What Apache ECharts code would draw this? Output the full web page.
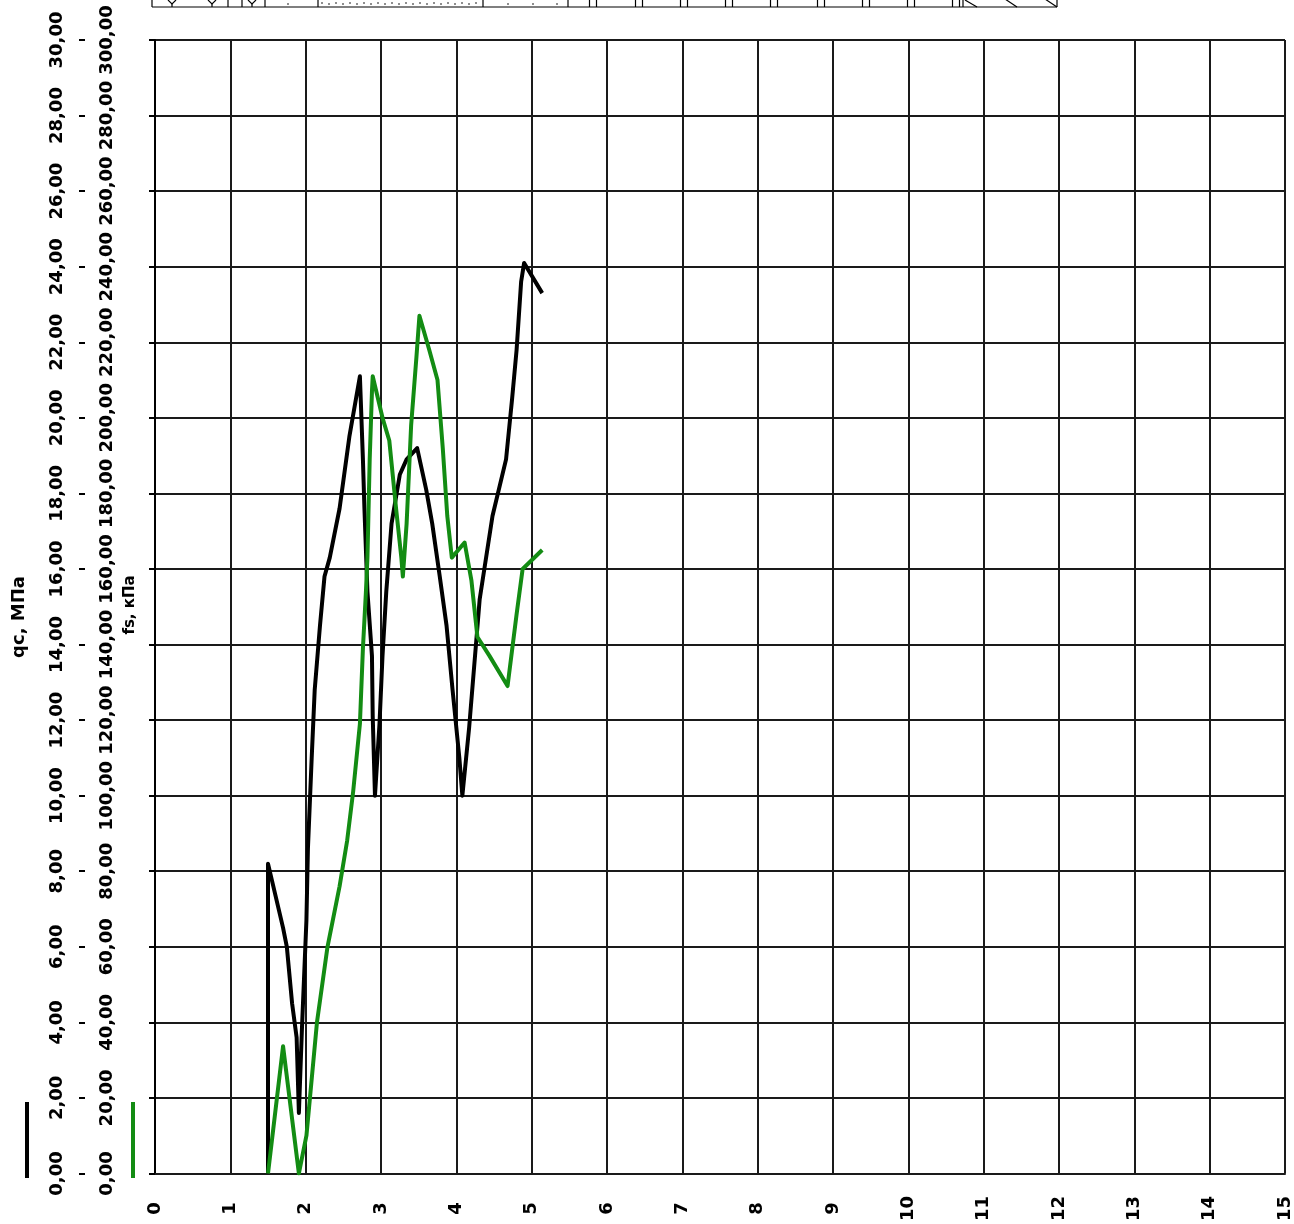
<!DOCTYPE html>
<html>
<head>
<meta charset="utf-8">
<title>CPT</title>
<script src="https://cdn.jsdelivr.net/npm/echarts@6/dist/echarts.min.js"></script>
<style>
  html, body { margin: 0; padding: 0; background: #ffffff; }
  #chart { width: 1294px; height: 1224px; }
</style>
</head>
<body>
<div id="chart"></div>
<script>
// Depth axis ticks (m)
const depthTicks = [0, 1, 2, 3, 4, 5, 6, 7, 8, 9, 10, 11, 12, 13, 14, 15];

// Cone resistance qc, MPa, against depth
const qcDepth = [1.50, 1.50, 1.70, 1.75, 1.82, 1.88, 1.91, 1.95, 2.01, 2.03, 2.08, 2.12, 2.19, 2.25,
  2.32, 2.45, 2.58, 2.72, 2.76, 2.78, 2.82, 2.88, 2.89, 2.92, 2.98, 3.02, 3.07, 3.14, 3.25, 3.34,
  3.48, 3.60, 3.68, 3.78, 3.87, 3.95, 4.04, 4.08, 4.17, 4.31, 4.48, 4.66, 4.74, 4.80, 4.86, 4.90, 5.14];
const qcValues = [0.0, 8.2, 6.5, 6.0, 4.5, 3.6, 1.6, 3.8, 6.7, 8.6, 11.0, 12.8, 14.5, 15.8,
  16.3, 17.6, 19.5, 21.1, 18.9, 17.6, 15.4, 13.7, 12.1, 10.0, 11.9, 13.7, 15.4, 17.2, 18.5, 18.9,
  19.2, 18.1, 17.2, 15.8, 14.5, 12.8, 11.0, 10.0, 11.8, 15.2, 17.4, 18.9, 20.5, 21.8, 23.6, 24.1, 23.3];

// Sleeve friction fs, kPa, against depth
const fsDepth = [1.50, 1.70, 1.91, 2.01, 2.15, 2.29, 2.45, 2.55, 2.63, 2.72, 2.76, 2.80, 2.82, 2.85,
  2.88, 2.89, 3.02, 3.11, 3.20, 3.27, 3.29, 3.34, 3.40, 3.47, 3.51, 3.64, 3.75, 3.82, 3.88, 3.94,
  4.11, 4.20, 4.28, 4.44, 4.68, 4.80, 4.88, 5.14];
const fsValues = [0, 33.7, 0, 10, 40, 60, 76, 88, 101, 119, 139, 154, 163, 189,
  207, 211, 200, 194, 176, 163, 158, 172, 198, 216, 227, 218, 210, 192, 174, 163,
  167, 157, 142, 137, 129, 148, 160, 165];

const qcTitle = 'qc, МПа';
const fsTitle = 'fs, кПа';

const QC_COLOR = '#000000';
const FS_COLOR = '#138c13';
const GRID_COLOR = '#1a1a1a';
const FONT = 'DejaVu Sans';

const qcData = qcDepth.map((d, i) => [d, qcValues[i]]);
const fsData = fsDepth.map((d, i) => [d, fsValues[i]]);
const comma2 = v => v.toFixed(2).replace('.', ',');

const labelBase = {
  rotate: 90,
  align: 'center',
  verticalAlign: 'middle',
  color: '#000',
  fontFamily: FONT,
  fontWeight: 'bold',
  fontSize: 18
};

// Strip of soil-column symbols along the top edge
function topStrip() {
  const els = [];
  const ln = (x1, y1, x2, y2) => els.push({
    type: 'line', shape: { x1, y1, x2, y2 }, style: { stroke: '#000', lineWidth: 1.2 }
  });
  ln(152, 7, 1057, 7);
  [152, 228, 242, 265, 318, 483, 568, 1057].forEach(x => ln(x, -1, x, 7));
  [172, 212, 252].forEach(x => {
    els.push({ type: 'polyline', shape: { points: [[x - 4, 0], [x, 4], [x + 4, 0]] },
      style: { stroke: '#000', fill: null, lineWidth: 1.2 } });
    ln(x, 4, x, 7);
  });
  const dot = (x, y) => els.push({ type: 'circle', shape: { cx: x, cy: y, r: 0.8 }, style: { fill: '#000' } });
  dot(288, 4);
  for (let x = 322; x < 482; x += 7) dot(x, 3 + ((x / 7) % 2));
  [508, 533, 557].forEach(x => dot(x, 4));
  [593, 639, 684, 729, 774, 821, 866, 911, 956].forEach(c => {
    ln(c - 3.5, -1, c - 3.5, 7);
    ln(c + 3.5, -1, c + 3.5, 7);
  });
  ln(963, -1, 963, 7);
  ln(965, 0, 977, 7);
  ln(1005, -1, 1017, 7);
  ln(1045, -1, 1057, 7);
  return els;
}

const chart = echarts.init(document.getElementById('chart'), null, { renderer: 'canvas' });

chart.setOption({
  animation: false,
  backgroundColor: '#ffffff',
  grid: { left: 155, right: 7, top: 40, bottom: 46, containLabel: false },
  xAxis: {
    type: 'value',
    min: depthTicks[0],
    max: depthTicks[depthTicks.length - 1],
    interval: 1,
    axisLine: { show: true, lineStyle: { color: GRID_COLOR, width: 2 } },
    axisTick: { show: false },
    splitLine: { show: true, lineStyle: { color: GRID_COLOR, width: 2 } },
    axisLabel: Object.assign({}, labelBase, { margin: 35, formatter: v => String(v) })
  },
  yAxis: [
    {
      type: 'value',
      position: 'left',
      offset: 76,
      min: 0, max: 30, interval: 2,
      axisLine: { show: true, lineStyle: { color: '#000', width: 2 } },
      axisTick: { show: true, length: 6, lineStyle: { color: '#000', width: 2 } },
      splitLine: { show: true, lineStyle: { color: GRID_COLOR, width: 2 } },
      axisLabel: Object.assign({}, labelBase, { margin: 22, formatter: comma2 })
    },
    {
      type: 'value',
      position: 'left',
      offset: 76,
      min: 0, max: 300, interval: 20,
      axisLine: { show: false },
      axisTick: { show: true, inside: true, length: 6, lineStyle: { color: '#000', width: 2 } },
      splitLine: { show: false },
      axisLabel: Object.assign({}, labelBase, { inside: true, margin: 28, formatter: comma2 })
    }
  ],
  series: [
    {
      name: qcTitle,
      type: 'line',
      yAxisIndex: 0,
      data: qcData,
      showSymbol: false,
      symbol: 'none',
      lineStyle: { color: QC_COLOR, width: 4, join: 'round' },
      z: 3
    },
    {
      name: fsTitle,
      type: 'line',
      yAxisIndex: 1,
      data: fsData,
      showSymbol: false,
      symbol: 'none',
      lineStyle: { color: FS_COLOR, width: 4, join: 'round' },
      z: 4
    }
  ],
  graphic: [
    {
      type: 'text', x: 19, y: 617, rotation: Math.PI / 2,
      style: { text: qcTitle, fill: '#000', font: 'bold 18px "DejaVu Sans"', align: 'center', verticalAlign: 'middle' }
    },
    {
      type: 'text', x: 130, y: 605, rotation: Math.PI / 2,
      style: { text: fsTitle, fill: '#000', font: 'bold 15px "DejaVu Sans"', align: 'center', verticalAlign: 'middle' }
    },
    { type: 'line', shape: { x1: 27, y1: 1102, x2: 27, y2: 1178 }, style: { stroke: QC_COLOR, lineWidth: 4 } },
    { type: 'line', shape: { x1: 133, y1: 1102, x2: 133, y2: 1178 }, style: { stroke: FS_COLOR, lineWidth: 4 } }
  ].concat(topStrip())
});
</script>
</body>
</html>
